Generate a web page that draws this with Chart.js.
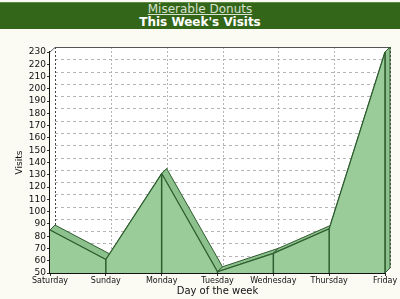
<!DOCTYPE html>
<html>
<head>
<meta charset="utf-8">
<script src="https://cdn.jsdelivr.net/npm/chart.js@4"></script>
<style>
  html, body { margin: 0; padding: 0; background: #fbfbf4; }
  #banner {
    position: absolute; left: 0; top: 2px; width: 400px; height: 26px;
    background: #336619; border-top: 1px solid #5d8a45;
    text-align: center; font-family: "DejaVu Sans", sans-serif; line-height: 13px;
  }
  #banner .sub { color: #d8e2d0; font-size: 12px; text-decoration: underline; }
  #banner .main { color: #ffffff; font-size: 12px; font-weight: bold; }
  #wrap { position: absolute; left: 0; top: 28px; width: 400px; height: 271px; }
</style>
</head>
<body>
<div id="banner">
  <div class="sub">Miserable Donuts</div>
  <div class="main">This Week's Visits</div>
</div>
<div id="wrap"><canvas id="chartContainer" width="400" height="271"></canvas></div>
<script>
// data
var days = ['Saturday', 'Sunday', 'Monday', 'Tuesday', 'Wednesday', 'Thursday', 'Friday'];
var visits = [85, 61, 131, 51, 66, 86, 230];
var yMin = 50, yMax = 230, yStep = 10;

var depth = 5;
var lineCol = '#2e5c2e';

// draws the back wall, grid and the 3d top strip of the area
var depthPlugin = {
    id: 'depth3d',
    beforeDatasetsDraw: function(chart) {
        var ctx = chart.ctx, a = chart.chartArea;
        var x = chart.scales.x, y = chart.scales.y;
        ctx.save();
        // back wall
        ctx.fillStyle = '#ffffff';
        ctx.fillRect(a.left, a.top - depth, a.right - a.left + depth, a.bottom - a.top + depth);
        // horizontal grid
        ctx.strokeStyle = '#b4b4b4';
        ctx.lineWidth = 1;
        ctx.setLineDash([3, 3]);
        for (var v = yMin + yStep; v < yMax; v += yStep) {
            var py = Math.round(y.getPixelForValue(v) - depth) + 0.5;
            ctx.beginPath();
            ctx.moveTo(a.left + depth, py);
            ctx.lineTo(a.right + depth, py);
            ctx.stroke();
        }
        // vertical grid
        ctx.setLineDash([2, 2]);
        for (var i = 0; i < days.length; i++) {
            var px = Math.round(x.getPixelForValue(i) + depth) + 0.5;
            ctx.strokeStyle = (i == 0 || i == days.length - 1) ? '#444' : '#b4b4b4';
            ctx.beginPath();
            ctx.moveTo(px, a.top - depth);
            ctx.lineTo(px, a.bottom - depth);
            ctx.stroke();
        }
        ctx.setLineDash([]);
        // top border of back wall
        ctx.strokeStyle = '#555';
        ctx.beginPath();
        ctx.moveTo(a.left, a.top);
        ctx.lineTo(a.left + depth, a.top - depth + 0.5);
        ctx.lineTo(a.right + depth, a.top - depth + 0.5);
        ctx.stroke();

        // top strip + right side of the area
        var pts = chart.getDatasetMeta(0).data;
        ctx.fillStyle = '#8cc08c';
        ctx.strokeStyle = lineCol;
        ctx.lineJoin = 'round';
        for (var j = 0; j < pts.length - 1; j++) {
            var p = pts[j], q = pts[j + 1];
            ctx.beginPath();
            ctx.moveTo(p.x, p.y);
            ctx.lineTo(q.x, q.y);
            ctx.lineTo(q.x + depth, q.y - depth);
            ctx.lineTo(p.x + depth, p.y - depth);
            ctx.closePath();
            ctx.fill();
            ctx.stroke();
        }
        var last = pts[pts.length - 1];
        ctx.beginPath();
        ctx.moveTo(last.x, last.y);
        ctx.lineTo(last.x + depth, last.y - depth);
        ctx.lineTo(last.x + depth, a.bottom - depth);
        ctx.lineTo(last.x, a.bottom);
        ctx.closePath();
        ctx.fill();
        ctx.stroke();
        ctx.restore();
    },
    afterDatasetsDraw: function(chart) {
        var ctx = chart.ctx, a = chart.chartArea;
        var pts = chart.getDatasetMeta(0).data;
        ctx.save();
        ctx.strokeStyle = lineCol;
        ctx.lineWidth = 1.5;
        for (var j = 1; j < pts.length; j++) {
            ctx.beginPath();
            ctx.moveTo(pts[j].x, pts[j].y);
            ctx.lineTo(pts[j].x, a.bottom);
            ctx.stroke();
        }
        ctx.restore();
    }
};

var ctx = document.getElementById('chartContainer').getContext('2d');
var myChart = new Chart(ctx, {
    type: 'line',
    data: {
        labels: days,
        datasets: [{
            data: visits,
            fill: 'start',
            backgroundColor: '#99cc99',
            borderColor: lineCol,
            borderWidth: 1.2,
            pointRadius: 0,
            tension: 0
        }]
    },
    options: {
        responsive: false,
        animation: false,
        devicePixelRatio: 1,
        layout: { padding: { top: 24, right: 15, left: 14, bottom: 0 } },
        plugins: { legend: { display: false }, tooltip: { enabled: false } },
        scales: {
            x: {
                offset: false,
                grid: { display: true, drawOnChartArea: false, tickLength: 3, color: '#333' },
                border: { display: true, color: '#111', width: 2 },
                ticks: { color: '#111', font: { family: 'DejaVu Sans', size: 8 }, padding: 0, maxRotation: 0, autoSkip: false },
                title: { display: true, text: 'Day of the week', color: '#111', font: { family: 'DejaVu Sans', size: 10 }, padding: { top: 0, bottom: 2 } },
                afterFit: function(s) { s.height = 26; }
            },
            y: {
                min: yMin, max: yMax,
                grid: { display: true, drawOnChartArea: false, tickLength: 3, color: '#333' },
                border: { display: true, color: '#111', width: 3 },
                ticks: { stepSize: yStep, autoSkip: false, color: '#111', font: { family: 'DejaVu Sans', size: 9 }, padding: 1 },
                title: { display: true, text: 'Visits', color: '#111', font: { family: 'DejaVu Sans', size: 9 }, padding: { top: 0, bottom: 0 } },
                afterFit: function(s) { s.width = 36; }
            }
        }
    },
    plugins: [depthPlugin]
});
</script>
</body>
</html>
